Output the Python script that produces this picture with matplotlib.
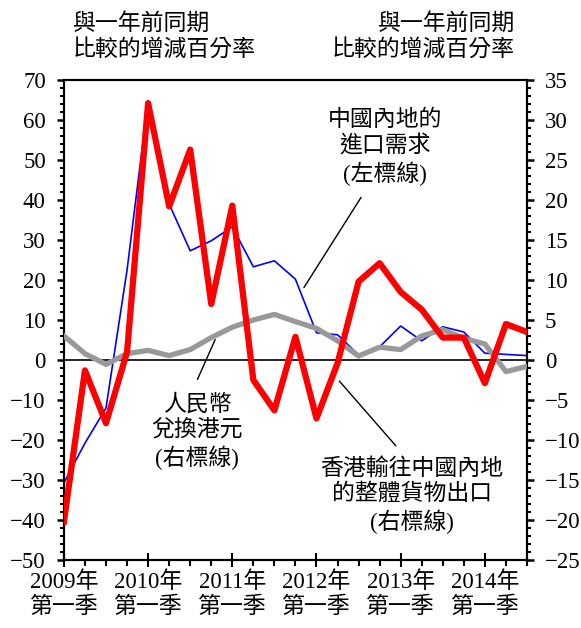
import matplotlib
matplotlib.use("Agg")
import matplotlib.pyplot as plt
from matplotlib.ticker import MultipleLocator

plt.rcParams['font.family'] = ['Liberation Serif', 'Noto Sans CJK TC']
plt.rcParams['font.size'] = 16.5

# 2009年第一季 至 2014年第三季 (季度)
quarters = list(range(23))
year_labels = ['2009年\n第一季', '2010年\n第一季', '2011年\n第一季',
               '2012年\n第一季', '2013年\n第一季', '2014年\n第一季']

# 中國內地的進口需求 (左標線)
mainland_imports = [-30.7, -20.8, -12.0, 22.5, 64.8, 39.0, 27.3, 29.8, 33.3, 23.3, 24.8, 20.2,
                    6.8, 6.3, 1.3, 3.3, 8.5, 4.8, 8.3, 7.0, 1.7, 1.4, 1.1]

# 香港輸往中國內地的整體貨物出口 (右標線)
hk_exports = [-20.2, -1.3, -7.9, 1.0, 32.1, 19.2, 26.3, 7.0, 19.3, -2.5, -6.3, 2.9,
              -7.3, -0.4, 9.8, 12.1, 8.5, 6.3, 2.8, 2.8, -2.9, 4.5, 3.5]

# 人民幣兌換港元 (右標線)
rmb_hkd = [3.0, 0.8, -0.55, 0.8, 1.2, 0.55, 1.3, 2.8, 4.1, 5.0, 5.7, 4.8,
           3.95, 2.4, 0.5, 1.6, 1.3, 3.0, 3.8, 2.7, 2.0, -1.45, -0.8]

fig = plt.figure(figsize=(5.81, 6.28), dpi=100)
ax = fig.add_axes([0.110, 0.1083, 0.797, 0.7643])
ax2 = ax.twinx()

ax.axhline(0, color='black', lw=1.2, zorder=1)
ax.plot(quarters, mainland_imports, color='#0000ff', lw=1.2, zorder=2)
ax2.plot(quarters, rmb_hkd, color='#999999', lw=3.8, zorder=3)
ax2.plot(quarters, hk_exports, color='#ff0000', lw=4.5, zorder=4)

ax.set_xlim(0, 22)
ax.set_ylim(-50, 70)
ax2.set_ylim(-25, 35)

ax.set_xticks([0, 4, 8, 12, 16, 20])
ax.set_xticklabels(year_labels, linespacing=1.25)
ax.xaxis.set_minor_locator(MultipleLocator(1))
ax.tick_params(axis='x', which='major', direction='inout', length=10, width=1.5, pad=3)
ax.tick_params(axis='x', which='minor', direction='out', length=4, width=1.5)

ax.yaxis.set_major_locator(MultipleLocator(10))
ax.yaxis.set_minor_locator(MultipleLocator(2))
ax.tick_params(axis='y', which='major', direction='out', length=5, width=1.8, pad=8)
ax.tick_params(axis='y', which='minor', direction='out', length=3, width=1.5)

ax2.yaxis.set_major_locator(MultipleLocator(5))
ax2.yaxis.set_minor_locator(MultipleLocator(1))
ax2.tick_params(axis='y', which='major', direction='out', length=5, width=1.8, pad=8)
ax2.tick_params(axis='y', which='minor', direction='out', length=3, width=1.5)

for a in (ax, ax2):
    for s in a.spines.values():
        s.set_linewidth(1.5)

# 左右標題
fig.text(0.1256, 0.941, '與一年前同期\n比較的增減百分率', ha='left', va='center', linespacing=1.25)
fig.text(0.886, 0.941, '與一年前同期\n比較的增減百分率', ha='right', va='center', linespacing=1.25)

# 說明文字
ax.annotate('', xy=(11.33, 17.5), xytext=(14.19, 41.25),
            arrowprops=dict(arrowstyle='-', color='black', lw=1))
ax.text(15.24, 53, '中國內地的\n進口需求\n(左標線)', ha='center', va='center', linespacing=1.25)

ax.annotate('', xy=(7.24, 5.75), xytext=(6.29, -5.5),
            arrowprops=dict(arrowstyle='-', color='black', lw=1))
ax.text(6.33, -18, '人民幣\n兌換港元\n(右標線)', ha='center', va='center', linespacing=1.25)

ax.annotate('', xy=(13.0, -4.75), xytext=(15.86, -22),
            arrowprops=dict(arrowstyle='-', color='black', lw=1))
ax.text(16.52, -34, '香港輸往中國內地\n的整體貨物出口\n(右標線)', ha='center', va='center', linespacing=1.25)

fig.savefig('out.png', dpi=100)
